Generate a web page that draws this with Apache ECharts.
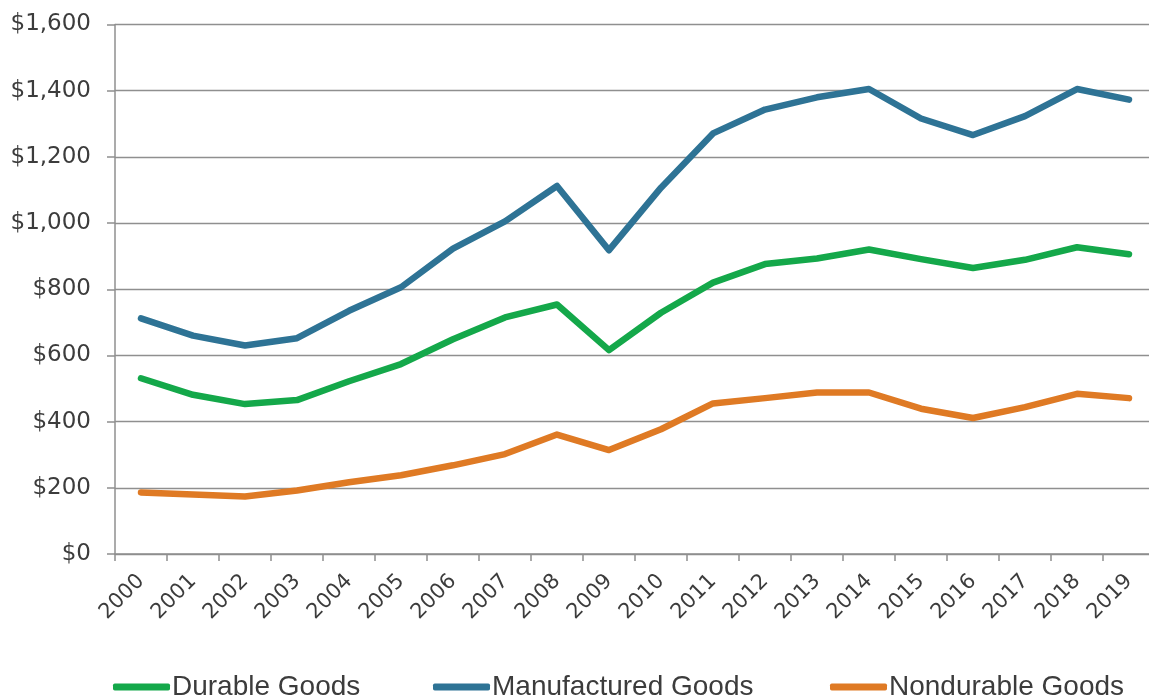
<!DOCTYPE html>
<html>
<head>
<meta charset="utf-8">
<script src="https://cdn.jsdelivr.net/npm/echarts@6/dist/echarts.min.js"></script>
<style>
html,body{margin:0;padding:0;background:#fff;overflow:hidden;}
#chart{width:1162px;height:698px;}
</style>
</head>
<body>
<div id="chart"></div>
<script>
const years = ['2000','2001','2002','2003','2004','2005','2006','2007','2008','2009','2010','2011','2012','2013','2014','2015','2016','2017','2018','2019'];
const durableGoods = [531, 481, 453, 465, 522, 574, 649, 715, 754, 616, 729, 820, 876, 893, 920, 891, 864, 889, 927, 906];
const manufacturedGoods = [712, 660, 630, 652, 735, 806, 923, 1005, 1112, 918, 1107, 1271, 1343, 1380, 1405, 1316, 1266, 1323, 1405, 1373];
const nondurableGoods = [186, 180, 174, 192, 217, 238, 268, 302, 361, 314, 377, 455, 471, 488, 488, 439, 411, 444, 484, 471];
const seriesNames = ['Durable Goods', 'Manufactured Goods', 'Nondurable Goods'];

const chart = echarts.init(document.getElementById('chart'), null, {renderer: 'canvas'});
const font = 'DejaVu Sans';
const textColor = '#3c3c3c';
const gridColor = '#8f8f8f';
const legendBase = {
  top: 673,
  icon: 'roundRect',
  itemWidth: 57,
  itemHeight: 7,
  padding: 0,
  textStyle: {fontFamily: 'Liberation Sans', fontSize: 28, color: textColor, padding: [0,0,0,-3]}
};
const lineCommon = {
  type: 'line',
  showSymbol: false,
  symbol: 'none',
  smooth: false,
  z: 3
};
chart.setOption({
  animation: false,
  backgroundColor: '#ffffff',
  grid: {left: 115, top: 24.5, width: 1040, height: 529.5, containLabel: false},
  legend: [
    Object.assign({}, legendBase, {left: 113, data: [seriesNames[0]]}),
    Object.assign({}, legendBase, {left: 433, data: [seriesNames[1]]}),
    Object.assign({}, legendBase, {left: 830, data: [seriesNames[2]]})
  ],
  xAxis: {
    type: 'category',
    data: years,
    boundaryGap: true,
    axisLine: {show: true, lineStyle: {color: gridColor, width: 1.5}},
    axisTick: {show: true, length: 7, alignWithLabel: false, lineStyle: {color: gridColor, width: 1.5}},
    axisLabel: {rotate: 45, margin: 24, fontFamily: font, fontSize: 21, color: textColor, interval: 0}
  },
  yAxis: {
    type: 'value',
    min: 0,
    max: 1600,
    interval: 200,
    axisLine: {show: true, lineStyle: {color: gridColor, width: 1.5}},
    axisTick: {show: true, length: 8, inside: false, lineStyle: {color: gridColor, width: 1.5}},
    splitLine: {show: true, lineStyle: {color: gridColor, width: 1.3}},
    axisLabel: {
      margin: 24,
      fontFamily: font, fontSize: 23, color: textColor,
      formatter: v => '$' + v.toLocaleString('en-US')
    }
  },
  series: [
    Object.assign({}, lineCommon, {name: seriesNames[0], data: durableGoods, color: '#14A84A',
      lineStyle: {width: 6.5, color: '#14A84A', cap: 'round', join: 'round'}}),
    Object.assign({}, lineCommon, {name: seriesNames[1], data: manufacturedGoods, color: '#2E7395',
      lineStyle: {width: 6.5, color: '#2E7395', cap: 'round', join: 'round'}}),
    Object.assign({}, lineCommon, {name: seriesNames[2], data: nondurableGoods, color: '#DF7A24',
      lineStyle: {width: 6.5, color: '#DF7A24', cap: 'round', join: 'round'}})
  ]
});
</script>
</body>
</html>
